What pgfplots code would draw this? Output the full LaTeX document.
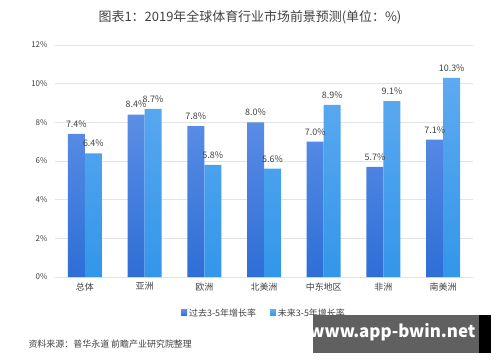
\documentclass[border=0pt]{standalone}
\usepackage{fontspec}
\setmainfont{Noto Sans CJK SC}
\usepackage{pgfplots}
\pgfplotsset{compat=1.18}
\definecolor{txt}{HTML}{404040}
\definecolor{gridc}{HTML}{E3E3E3}
\definecolor{sAtop}{HTML}{5B8EE6}
\definecolor{sAbot}{HTML}{2E6ED6}
\definecolor{sBtop}{HTML}{5DAAF0}
\definecolor{sBbot}{HTML}{3396EA}
\begin{document}
\begin{tikzpicture}[x=1bp,y=1bp]
\useasboundingbox (0,0) rectangle (500,362);
\begin{axis}[
  at={(55bp,85bp)}, anchor=south west, scale only axis,
  width=418bp, height=232bp,
  xmin=-0.5, xmax=6.5, ymin=0, ymax=12,
  ytick={0,2,...,12}, xtick={0,...,6},
  xticklabels={总体,亚洲,欧洲,北美洲,中东地区,非洲,南美洲},
  axis line style={draw=none},
  ymajorgrids, grid style={draw=gridc, line width=0.8pt},
  major tick length=0pt,
  /pgf/number format/assume math mode=true,
  yticklabel={\pgfmathprintnumber{\tick}\%},
  yticklabel style={font=\fontsize{8}{8}\selectfont, text=txt, xshift=-4bp},
  xticklabel style={font=\fontsize{9}{9}\selectfont, text=txt, yshift=-2bp},
  ybar=0pt, bar width=17bp,
  nodes near coords={\pgfmathprintnumber[fixed,fixed zerofill,precision=1]{\pgfplotspointmeta}\%},
  every node near coord/.append style={font=\fontsize{9}{9}\selectfont, text=txt, yshift=3bp},
  legend style={at={(0.5,-0.155)}, anchor=center, draw=none, fill=none,
    legend columns=2, font=\fontsize{9}{9}\selectfont, text=txt,
    /tikz/every even column/.append style={column sep=12bp}},
  legend image code/.code={\fill[#1] (0bp,-3bp) rectangle (6bp,3bp);},
]
\addplot[draw=none, top color=sAtop, bottom color=sAbot] coordinates {(0,7.4) (1,8.4) (2,7.8) (3,8.0) (4,7.0) (5,5.7) (6,7.1)};
\addlegendentry{过去3-5年增长率}
\addplot[draw=none, top color=sBtop, bottom color=sBbot] coordinates {(0,6.4) (1,8.7) (2,5.8) (3,5.6) (4,8.9) (5,9.1) (6,10.3)};
\addlegendentry{未来3-5年增长率}
\end{axis}
\node[font=\fontsize{13}{13}\selectfont, text=txt] at (250,345) {图表1：2019年全球体育行业市场前景预测(单位：\%)};
\node[font=\fontsize{9}{9}\selectfont, text=txt, anchor=west] at (25,18) {资料来源：普华永道 前瞻产业研究院整理};
\fill[fill={rgb,255:red,96;green,96;blue,96}] (313,9) rectangle (479,47);
\fill[black] (479,9) rectangle (491,47);
\node[font=\fontsize{17}{17}\selectfont\bfseries, text=white, anchor=east] at (479,30) {www.app-bwin.net};
\end{tikzpicture}
\end{document}
